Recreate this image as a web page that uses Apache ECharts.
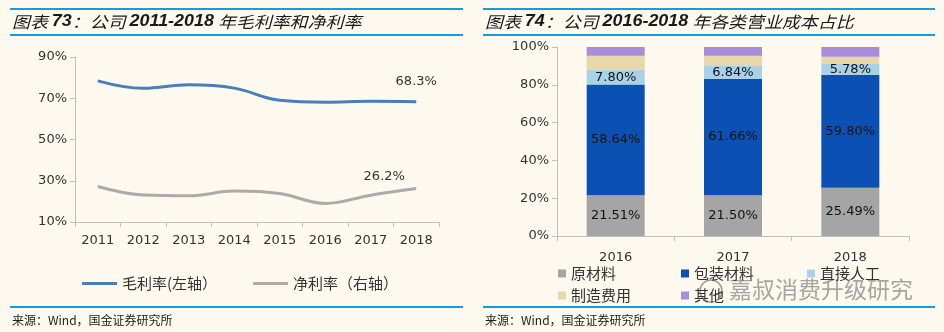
<!DOCTYPE html>
<html><head><meta charset="utf-8">
<script src="https://cdn.jsdelivr.net/npm/echarts@6/dist/echarts.min.js"></script>
<style>html,body{margin:0;padding:0;background:#FDF9EE;}#c{width:944px;height:332px;}</style>
</head><body><div id="c"></div>
<script>
// ---- data ----
var years = ['2011','2012','2013','2014','2015','2016','2017','2018'];
var grossMargin = [78.4, 74.8, 76.5, 74.9, 69.0, 68.1, 68.5, 68.3];
var netMargin = [27.2, 23.1, 22.7, 25.0, 23.8, 19.0, 23.0, 26.2];
var leftTicks = [10, 30, 50, 70, 90];

var costYears = ['2016','2017','2018'];
var rawMaterial = [21.51, 21.50, 25.49];
var packaging = [58.64, 61.66, 59.80];
var directLabor = [7.80, 6.84, 5.78];
var manufacturing = [7.40, 5.40, 3.80];
var other = [4.65, 4.60, 5.13];

var FONT = 'DejaVu Sans';
var CJK = 'Noto Sans CJK SC';
var AX = '#BFBFBF';
var TXT = '#333333';
var BLUE = '#1A9AD6';

function lastLabel(arr, offset) {
  return arr.map(function (v, i) {
    if (i !== arr.length - 1) return v;
    return { value: v, label: { show: true, position: 'top', offset: offset,
      formatter: function (p) { return p.value.toFixed(1) + '%'; },
      fontFamily: FONT, fontSize: 13, color: TXT } };
  });
}

function barLabel() {
  return { show: true, position: 'inside', fontFamily: FONT, fontSize: 13, color: '#111',
    formatter: function (p) { return p.value.toFixed(2) + '%'; } };
}

function costLegend(name, left, top) {
  return { data: [name], left: left, top: top, icon: 'rect', itemWidth: 8, itemHeight: 8,
    textStyle: { fontFamily: CJK, fontSize: 15, color: TXT } };
}

var chart = echarts.init(document.getElementById('c'), null, { renderer: 'canvas' });
var option = {
  backgroundColor: '#FDF9EE',
  animation: false,
  grid: [
    { left: 75, top: 57, width: 364, height: 165 },
    { left: 557, top: 47, width: 352, height: 189 }
  ],
  xAxis: [
    { gridIndex: 0, type: 'category', data: years, boundaryGap: true,
      axisLine: { lineStyle: { color: AX } },
      axisTick: { show: true, length: 5, lineStyle: { color: AX } },
      axisLabel: { margin: 12, fontFamily: FONT, fontSize: 13, color: TXT } },
    { gridIndex: 1, type: 'category', data: costYears, boundaryGap: true,
      axisLine: { lineStyle: { color: AX } },
      axisTick: { show: true, length: 5, lineStyle: { color: AX } },
      axisLabel: { margin: 15, fontFamily: FONT, fontSize: 13, color: TXT } }
  ],
  yAxis: [
    { gridIndex: 0, type: 'value', min: 10, max: 90,
      axisLine: { show: true, lineStyle: { color: AX } },
      axisTick: { show: true, length: 5, lineStyle: { color: AX }, customValues: leftTicks },
      splitLine: { show: false },
      axisLabel: { customValues: leftTicks, margin: 8, fontFamily: FONT, fontSize: 13, color: TXT,
        formatter: '{value}%' } },
    { gridIndex: 0, type: 'value', min: 10, max: 90, position: 'right', show: false,
      splitLine: { show: false } },
    { gridIndex: 1, type: 'value', min: 0, max: 100, interval: 20,
      axisLine: { show: true, lineStyle: { color: AX } },
      axisTick: { show: true, length: 5, lineStyle: { color: AX } },
      splitLine: { show: false },
      axisLabel: { margin: 8, fontFamily: FONT, fontSize: 13, color: TXT, formatter: '{value}%' } }
  ],
  legend: [
    { data: ['毛利率(左轴）', '净利率（右轴）'], left: 77, top: 271, icon: 'rect',
      itemWidth: 35, itemHeight: 3, itemGap: 36,
      textStyle: { fontFamily: CJK, fontSize: 15, color: TXT } },
    costLegend('原材料', 553, 261),
    costLegend('包装材料', 676, 261),
    costLegend('直接人工', 802, 261),
    costLegend('制造费用', 553, 283),
    costLegend('其他', 676, 283)
  ],
  series: [
    { name: '毛利率(左轴）', type: 'line', xAxisIndex: 0, yAxisIndex: 0, smooth: 0.4,
      symbol: 'circle', symbolSize: 0.1, showSymbol: true,
      lineStyle: { width: 3, color: '#4A7EBB' }, itemStyle: { color: '#4A7EBB' },
      data: lastLabel(grossMargin, [0, -9]) },
    { name: '净利率（右轴）', type: 'line', xAxisIndex: 0, yAxisIndex: 1, smooth: 0.4,
      symbol: 'circle', symbolSize: 0.1, showSymbol: true,
      lineStyle: { width: 3, color: '#ABABAB' }, itemStyle: { color: '#ABABAB' },
      data: lastLabel(netMargin, [-32, 0]) },
    { name: '原材料', type: 'bar', stack: 'c', xAxisIndex: 1, yAxisIndex: 2, barWidth: 58,
      itemStyle: { color: '#A5A5A5' }, label: barLabel(), data: rawMaterial },
    { name: '包装材料', type: 'bar', stack: 'c', xAxisIndex: 1, yAxisIndex: 2, barWidth: 58,
      itemStyle: { color: '#0B50B3' }, label: barLabel(), data: packaging },
    { name: '直接人工', type: 'bar', stack: 'c', xAxisIndex: 1, yAxisIndex: 2, barWidth: 58,
      itemStyle: { color: '#A9D2E8' }, label: barLabel(), data: directLabor },
    { name: '制造费用', type: 'bar', stack: 'c', xAxisIndex: 1, yAxisIndex: 2, barWidth: 58,
      itemStyle: { color: '#E7D7AA' }, data: manufacturing },
    { name: '其他', type: 'bar', stack: 'c', xAxisIndex: 1, yAxisIndex: 2, barWidth: 58,
      itemStyle: { color: '#A88DDA' }, data: other }
  ],
  graphic: [
    { type: 'rect', shape: { x: 10, y: 8, width: 453, height: 2 }, style: { fill: BLUE } },
    { type: 'rect', shape: { x: 10, y: 34, width: 453, height: 2 }, style: { fill: BLUE } },
    { type: 'rect', shape: { x: 10, y: 306, width: 453, height: 2 }, style: { fill: BLUE } },
    { type: 'rect', shape: { x: 483, y: 8, width: 452, height: 2 }, style: { fill: BLUE } },
    { type: 'rect', shape: { x: 483, y: 34, width: 452, height: 2 }, style: { fill: BLUE } },
    { type: 'rect', shape: { x: 483, y: 306, width: 452, height: 2 }, style: { fill: BLUE } },
    { type: 'text', x: 12, y: 22, scaleX: 1.12, style: {
        text: '{a|图表 }{b|73}{a|：公司 }{b|2011-2018}{a| 年毛利率和净利率}',
        verticalAlign: 'middle',
        rich: {
          a: { fontFamily: CJK, fontSize: 16, fontStyle: 'italic', fontWeight: 'normal', fill: '#1a1a1a' },
          b: { fontFamily: 'Liberation Sans', fontSize: 16, fontStyle: 'italic', fontWeight: 'bold', fill: '#1a1a1a' }
        } } },
    { type: 'text', x: 485, y: 22, scaleX: 1.12, style: {
        text: '{a|图表 }{b|74}{a|：公司 }{b|2016-2018}{a| 年各类营业成本占比}',
        verticalAlign: 'middle',
        rich: {
          a: { fontFamily: CJK, fontSize: 16, fontStyle: 'italic', fontWeight: 'normal', fill: '#1a1a1a' },
          b: { fontFamily: 'Liberation Sans', fontSize: 16, fontStyle: 'italic', fontWeight: 'bold', fill: '#1a1a1a' }
        } } },
    { type: 'text', x: 12, y: 320, style: { text: '来源：Wind，国金证券研究所', fontFamily: CJK, fontSize: 12,
        fill: '#222', verticalAlign: 'middle' } },
    { type: 'text', x: 485, y: 320, style: { text: '来源：Wind，国金证券研究所', fontFamily: CJK, fontSize: 12,
        fill: '#222', verticalAlign: 'middle' } },
    { type: 'circle', shape: { cx: 711, cy: 291, r: 11 }, style: { fill: 'none', stroke: 'rgba(80,80,80,0.55)', lineWidth: 1.5 }, z: 100 },
    { type: 'text', x: 729, y: 289, z: 100, style: { text: '嘉叔消费升级研究', fontFamily: CJK, fontSize: 23,
        fill: 'rgba(80,80,80,0.5)', verticalAlign: 'middle' } }
  ]
};
chart.setOption(option);
</script>
</body></html>
